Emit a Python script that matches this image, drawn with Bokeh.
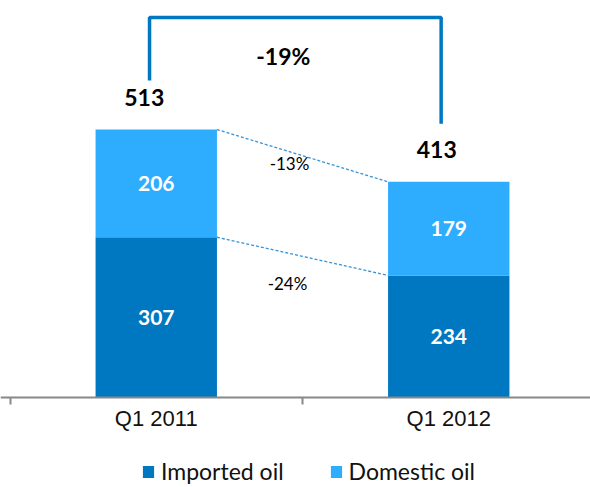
from bokeh.plotting import figure
from bokeh.models import ColumnDataSource, Range1d, FixedTicker, Legend, LegendItem
from bokeh.core.properties import value
from bokeh.embed import file_html
from bokeh.resources import INLINE

# ---- data ----
periods = ["Q1 2011", "Q1 2012"]
imported = [307, 234]
domestic = [206, 179]
totals = [513, 413]
total_change = ["-19%"]
imported_change = ["-24%"]
domestic_change = ["-13%"]

DARK = "#0078C1"
LIGHT = "#2EADFF"
LINE = "#3593D6"
FONT = "Lato"
BAR_W = 0.415

xs = list(range(len(periods)))
dom_top = [i + d for i, d in zip(imported, domestic)]

p = figure(width=590, height=487,
           x_range=Range1d(-0.5325, 1.4846), y_range=Range1d(-171.5, 759.7),
           y_axis_location=None,
           output_backend="svg", toolbar_location=None,
           min_border_left=0, min_border_right=0, min_border_top=0,
           min_border_bottom=0)
p.grid.visible = False
p.outline_line_color = None

src = ColumnDataSource(dict(x=xs, imp=imported, dom=domestic, top=dom_top,
                            imp_mid=[v / 2 for v in imported],
                            dom_mid=[i + d / 2 for i, d in zip(imported, domestic)],
                            tot=totals, tot_txt=[str(t) for t in totals],
                            imp_txt=[str(v) for v in imported],
                            dom_txt=[str(v) for v in domestic]))

r_imp = p.vbar(x="x", bottom=0, top="imp", width=BAR_W, fill_color=DARK,
               line_color=None, source=src)
r_dom = p.vbar(x="x", bottom="imp", top="top", width=BAR_W, fill_color=LIGHT,
               line_color=None, source=src)

# connectors between the bars
p.segment(x0=[xs[0] + BAR_W / 2] * 2, y0=[imported[0], dom_top[0]],
          x1=[xs[1] - BAR_W / 2] * 2, y1=[imported[1], dom_top[1]],
          line_color=LINE, line_width=1.3, line_dash="3 2")

# segment labels
p.text(x="x", y="imp_mid", text="imp_txt", source=src, text_color="white",
       text_font=value(FONT), text_font_style="bold", text_font_size="21px",
       text_align="center", text_baseline="middle")
p.text(x="x", y="dom_mid", text="dom_txt", source=src, text_color="white",
       text_font=value(FONT), text_font_style="bold", text_font_size="21px",
       text_align="center", text_baseline="middle")

# totals
p.text(x="x", y="tot", text="tot_txt", source=src, text_color="black",
       text_font=value(FONT), text_font_style="bold", text_font_size="23px",
       text_align="center", text_baseline="middle", x_offset=-12, y_offset=-32)

# bracket
br_top = 727
br_x = [xs[0] - 0.023, xs[0] - 0.023, xs[1] - 0.026, xs[1] - 0.026]
br_y = [totals[0] + 93.7, br_top, br_top, totals[1] + 110.9]
p.line(br_x, br_y, line_color=DARK, line_width=3.5)
p.text(x=[(br_x[0] + br_x[2]) / 2], y=[br_top], text=total_change,
       text_color="black", text_font=value(FONT), text_font_style="bold",
       text_font_size="23px", text_align="center", text_baseline="middle",
       x_offset=-12, y_offset=38)

# change labels between bars
mid_x = (xs[0] + xs[1]) / 2
p.text(x=[mid_x], y=[(dom_top[0] + dom_top[1]) / 2], text=domestic_change,
       text_color="black", text_font=value(FONT), text_font_size="17px",
       text_align="center", text_baseline="middle", x_offset=-13, y_offset=8)
p.text(x=[mid_x], y=[(imported[0] + imported[1]) / 2], text=imported_change,
       text_color="black", text_font=value(FONT), text_font_size="17px",
       text_align="center", text_baseline="middle", x_offset=-15, y_offset=27)

# axis drawn at y = 0 inside the frame
ax = p.xaxis[0]
ax.fixed_location = 0
ax.ticker = FixedTicker(ticks=xs, minor_ticks=[-0.5, 0.5, 1.5])
ax.major_label_overrides = {i: lab for i, lab in zip(xs, periods)}
ax.major_tick_line_color = None
ax.major_tick_out = 0
ax.major_tick_in = 0
ax.minor_tick_out = 7
ax.minor_tick_in = 0
ax.minor_tick_line_color = "#888888"
ax.minor_tick_line_width = 2
ax.axis_line_color = "#888888"
ax.axis_line_width = 2
ax.major_label_text_font = "Liberation Sans"
ax.major_label_text_font_size = "22px"
ax.major_label_text_color = "#111111"
ax.major_label_standoff = 1

legend = Legend(items=[LegendItem(label="Imported oil", renderers=[r_imp]),
                       LegendItem(label="Domestic oil", renderers=[r_dom])],
                orientation="horizontal", location=(141, 2),
                glyph_width=14, glyph_height=15, label_standoff=6, spacing=45,
                padding=0, margin=0, border_line_color=None,
                background_fill_alpha=0, label_text_font=FONT,
                label_text_font_size="23px", label_text_color="#111111")
p.add_layout(legend, "center")

open("out.html", "w").write(file_html(p, INLINE))
